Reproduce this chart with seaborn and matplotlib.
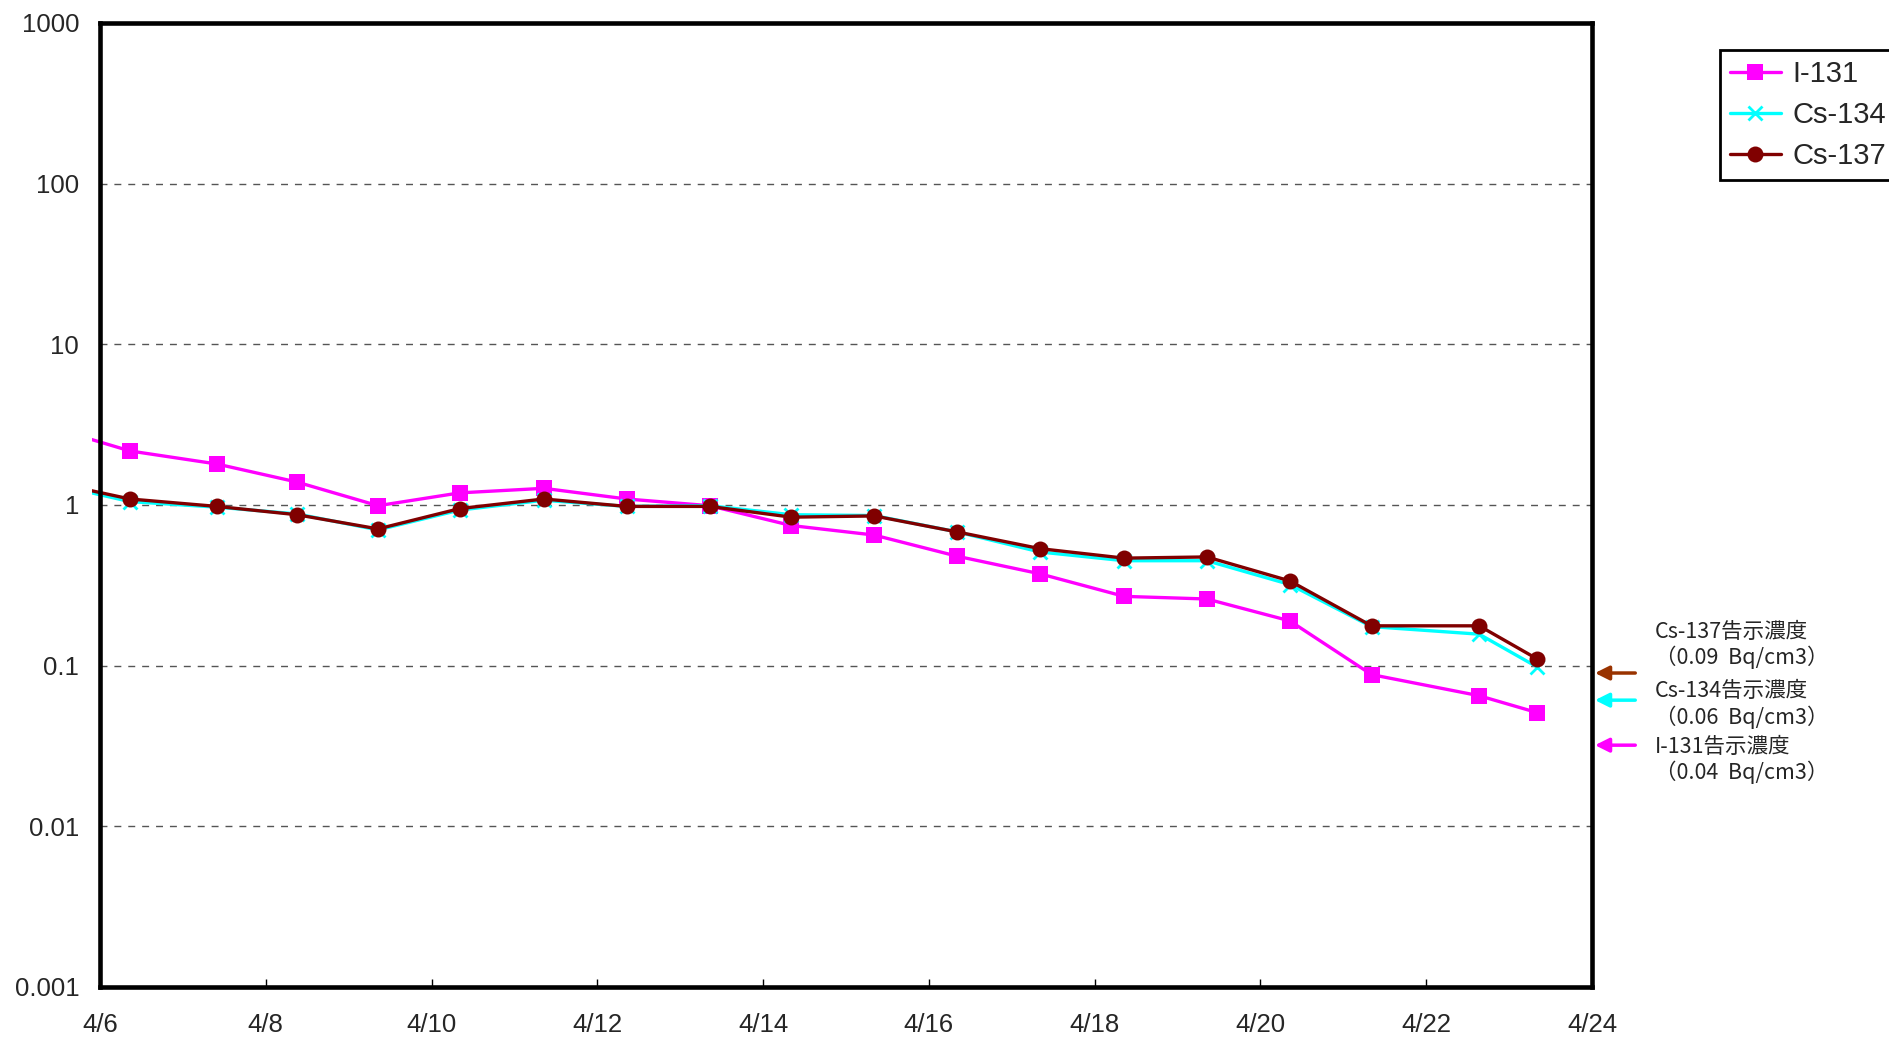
import numpy as np
import pandas as pd
import matplotlib
matplotlib.use("Agg")
import matplotlib.pyplot as plt
import seaborn as sns
from matplotlib.transforms import Bbox, TransformedBbox

# ---------------- data ----------------
times = ["2011-04-05 08:30", "2011-04-06 08:40", "2011-04-07 09:50", "2011-04-08 09:00",
         "2011-04-09 08:30", "2011-04-10 08:10", "2011-04-11 08:30", "2011-04-12 08:30",
         "2011-04-13 08:30", "2011-04-14 08:10", "2011-04-15 08:10", "2011-04-16 08:10",
         "2011-04-17 08:10", "2011-04-18 08:30", "2011-04-19 08:30", "2011-04-20 08:30",
         "2011-04-21 08:10", "2011-04-22 15:20", "2011-04-23 08:10"]
i131 = [3.1, 2.17, 1.80, 1.39, 0.99, 1.19, 1.27, 1.09, 0.99, 0.745, 0.65, 0.48, 0.373,
        0.27, 0.26, 0.19, 0.088, 0.065, 0.051]
cs134 = [1.38, 1.05, 0.97, 0.88, 0.70, 0.93, 1.07, 0.98, 0.99, 0.87, 0.86, 0.68, 0.51,
         0.45, 0.45, 0.32, 0.175, 0.157, 0.098]
cs137 = [1.41, 1.09, 0.98, 0.87, 0.71, 0.95, 1.09, 0.98, 0.98, 0.84, 0.855, 0.68, 0.535,
         0.467, 0.475, 0.337, 0.177, 0.177, 0.110]
series_names = ["I-131", "Cs-134", "Cs-137"]
limits = [0.09, 0.061, 0.032]          # 告示濃度 arrows (Cs-137, Cs-134, I-131)
limit_labels = ["Cs-137告示濃度\n（0.09  Bq/cm3）",
                "Cs-134告示濃度\n（0.06  Bq/cm3）",
                "I-131告示濃度\n（0.04  Bq/cm3）"]
y_ticks = [0.001, 0.01, 0.1, 1, 10, 100, 1000]
y_ticklabels = ["0.001", "0.01", "0.1", "1", "10", "100", "1000"]
x_ticks = pd.date_range("2011-04-06", "2011-04-24", freq="2D")
x_ticklabels = [f"4/{d.day}" for d in x_ticks]

df = pd.DataFrame({"time": pd.to_datetime(times), "I-131": i131,
                   "Cs-134": cs134, "Cs-137": cs137})

# ---------------- style ----------------
sns.set_theme(style="white")
plt.rcParams['font.family'] = ['Liberation Sans', 'DejaVu Sans']

W, H = 1890, 1040
fig = plt.figure(figsize=(W / 100, H / 100), dpi=100)
ax = fig.add_axes([100 / W, 1 - 987 / H, (1592 - 100) / W, (987 - 23) / H])

colors = {"I-131": "#FF00FF", "Cs-134": "#00FFFF", "Cs-137": "#800000"}
mk = {"I-131": dict(marker="s", markersize=12, markeredgewidth=0),
      "Cs-134": dict(marker="x", markersize=10.5, markeredgewidth=2),
      "Cs-137": dict(marker="o", markersize=11.5, markeredgewidth=0)}

for name in series_names:
    sns.lineplot(data=df, x="time", y=name, ax=ax, color=colors[name], linewidth=2.4,
                 label=name, sort=False, markerfacecolor=colors[name],
                 markeredgecolor=colors[name], **mk[name])

ax.set_yscale("log")
ax.set_ylim(0.001, 1000)
ax.set_xlim(pd.Timestamp("2011-04-06"), pd.Timestamp("2011-04-24"))
ax.set_yticks(y_ticks)
ax.set_yticklabels(y_ticklabels)
ax.yaxis.set_minor_locator(matplotlib.ticker.NullLocator())
ax.set_xticks(x_ticks)
ax.set_xticklabels(x_ticklabels)
ax.set_xlabel("")
ax.set_ylabel("")
ax.tick_params(axis="x", direction="in", length=6, width=1, color="black",
               labelsize=18.5, pad=19, bottom=True)
ax.tick_params(axis="y", length=0, labelsize=18.5, pad=15, left=True)

for yv in [0.01, 0.1, 1, 10, 100]:
    ax.axhline(yv, color="#555555", linewidth=1, linestyle=(0, (5, 5)), zorder=0.5)

for s in ax.spines.values():
    s.set_visible(True)
    s.set_color("black")
    s.set_linewidth(3.3)

# clip lines slightly left of the axis as in the reference
clipbox = TransformedBbox(Bbox.from_extents(-8 / 1492, 0, 1, 1), ax.transAxes)
for ln in ax.get_lines():
    if ln.get_label() in series_names:
        ln.set_clip_box(clipbox)

# legend
leg = ax.legend(loc="upper left", bbox_to_anchor=(1720 / W, 1 - 50 / H),
                bbox_transform=fig.transFigure, fontsize=21, frameon=True,
                fancybox=False, shadow=False, handlelength=1.75, handletextpad=0.4,
                labelspacing=0.45, borderpad=0.34, borderaxespad=0)
leg.get_frame().set_edgecolor("black")
leg.get_frame().set_linewidth(2)
leg.get_frame().set_facecolor("white")
leg.get_frame().set_alpha(1)

# limit arrows and labels
arrow_colors = ["#993300", "#00FFFF", "#FF00FF"]
text_y = [0.134, 0.0573, 0.0258]
trans = ax.get_yaxis_transform()
for yv, c, lab, ty in zip(limits, arrow_colors, limit_labels, text_y):
    ax.annotate("", xy=(1.002, yv), xycoords=trans, xytext=(1.029, yv), textcoords=trans,
                arrowprops=dict(arrowstyle="-|>,head_length=0.7,head_width=0.35",
                                color=c, lw=2.5, shrinkA=0, shrinkB=0), annotation_clip=False)
    ax.text(1.042, ty, lab, transform=trans, fontsize=15.5, va="center", ha="left",
            family=["Noto Sans CJK JP", "DejaVu Sans"], linespacing=1.15, clip_on=False)

fig.savefig("out.png", dpi=100)
